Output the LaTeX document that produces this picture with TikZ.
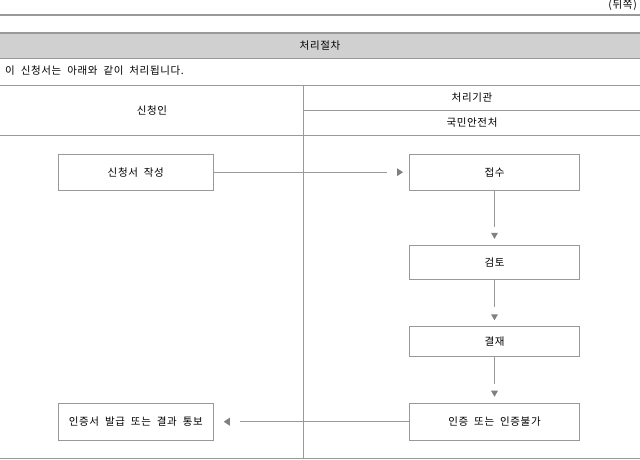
\documentclass[tikz,border=0pt]{standalone}
\usepackage{fontspec}
\setmainfont[LetterSpace=6,WordSpace=2]{Noto Sans CJK KR}
\usetikzlibrary{calc}
\definecolor{lgray}{HTML}{999999}
\definecolor{band}{HTML}{D0D0D0}
\definecolor{tgray}{HTML}{808080}
\tikzset{
  flowbox/.style={draw=lgray, line width=1pt, fill=white, inner sep=0pt, font=\fontsize{10.5}{12}\selectfont},
  conn/.style={draw=lgray, line width=1pt},
  tri/.style={fill=tgray},
  rule/.style={draw=lgray, line width=1pt},
  thick rule/.style={draw=lgray, line width=2.2pt},
  txt/.style={inner sep=0pt, font=\fontsize{10.5}{12}\selectfont}
}
\begin{document}
\begin{tikzpicture}[x=1pt,y=-1pt]
\useasboundingbox (0,0) rectangle (640,459);
% header
\node[txt, anchor=east] (back) at (637,5) {(뒤쪽)};
\draw[thick rule] (0,15) -- (640,15);
\draw[thick rule] (0,33) -- (640,33);
\fill[band] (0,34) rectangle (640,58);
\draw[rule] (0,58) -- (640,58);
\node[txt] (title) at (320,46) {처리절차};
\node[txt, anchor=west] (intro) at (5,71) {이 신청서는 아래와 같이 처리됩니다.};
% table lines
\draw[rule] (0,85.5) -- (640,85.5);
\draw[rule] (303.5,85.5) -- (303.5,458.5);
\draw[rule] (303.5,110.5) -- (640,110.5);
\draw[rule] (0,135.5) -- (640,135.5);
\draw[rule] (0,458.5) -- (640,458.5);
\node[txt] (h1) at (152,110.5) {신청인};
\node[txt] (h2) at (472,98) {처리기관};
\node[txt] (h3) at (472,123) {국민안전처};
% boxes
\node[flowbox, minimum width=155pt, minimum height=36pt] (n1) at (135.8,172.2) {신청서 작성};
\node[flowbox, minimum width=170pt, minimum height=36pt] (n2) at (494.5,172.2) {접수};
\node[flowbox, minimum width=170pt, minimum height=34pt] (n3) at (494.5,262.3) {검토};
\node[flowbox, minimum width=170pt, minimum height=29.5pt] (n4) at (494.5,341.5) {결재};
\node[flowbox, minimum width=170pt, minimum height=37pt] (n5) at (494.5,421.7) {인증 또는 인증불가};
\node[flowbox, minimum width=155pt, minimum height=37pt] (n6) at (135.8,421.7) {인증서 발급 또는 결과 통보};
% connectors
\draw[conn, shorten >=22pt] (n1) -- (n2);
\fill[tri] ($(n2.west)+(-6,0)$) -- ++(-6,-4) -- ++(0,8) -- cycle;
\draw[conn, shorten >=18pt] (n2) -- (n3);
\fill[tri] ($(n3.north)+(0,-6)$) -- ++(-3.5,-6) -- ++(7,0) -- cycle;
\draw[conn, shorten >=19pt] (n3) -- (n4);
\fill[tri] ($(n4.north)+(0,-6)$) -- ++(-3.5,-6) -- ++(7,0) -- cycle;
\draw[conn, shorten >=19pt] (n4) -- (n5);
\fill[tri] ($(n5.north)+(0,-6)$) -- ++(-3.5,-6) -- ++(7,0) -- cycle;
\draw[conn, shorten >=26pt] (n5) -- (n6);
\fill[tri] ($(n6.east)+(10,0)$) -- ++(6,-4) -- ++(0,8) -- cycle;
\end{tikzpicture}
\end{document}
